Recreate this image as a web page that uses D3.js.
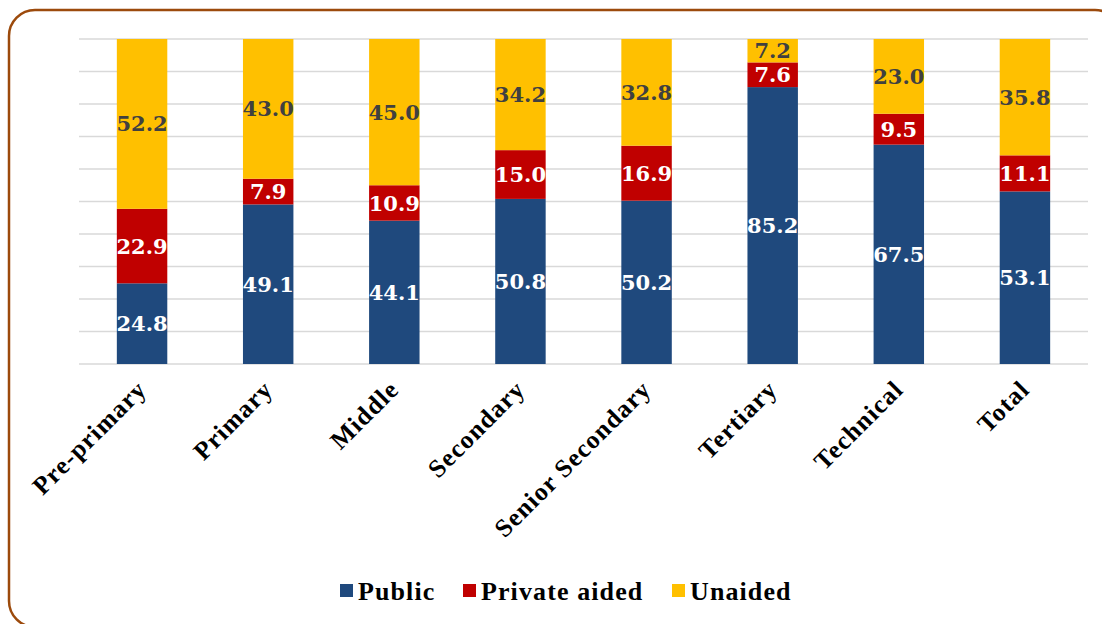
<!DOCTYPE html>
<html>
<head>
<meta charset="utf-8">
<script src="https://cdn.jsdelivr.net/npm/d3@7"></script>
<style>
  body { margin: 0; background: #fff; }
  svg { display: block; }
</style>
</head>
<body>
<svg width="1102" height="624"></svg>
<script>
const categories = ['Pre-primary', 'Primary', 'Middle', 'Secondary', 'Senior Secondary', 'Tertiary', 'Technical', 'Total'];
const publicShare = [24.8, 49.1, 44.1, 50.8, 50.2, 85.2, 67.5, 53.1];
const privateAided = [22.9, 7.9, 10.9, 15.0, 16.9, 7.6, 9.5, 11.1];
const unaided = [52.2, 43.0, 45.0, 34.2, 32.8, 7.2, 23.0, 35.8];
const seriesNames = ['Public', 'Private aided', 'Unaided'];
const seriesKeys = ['public', 'private', 'unaided'];
const colors = ['#1F497D', '#C00000', '#FFC000'];
const labelColors = ['#ffffff', '#ffffff', '#404040'];

const rows = categories.map((c, i) => ({
  cat: c, public: publicShare[i], private: privateAided[i], unaided: unaided[i]
}));

const svg = d3.select('svg');

// frame
svg.append('rect')
    .attr('x', 9).attr('y', 10)
    .attr('width', 1112).attr('height', 617)
    .attr('rx', 26).attr('ry', 26)
    .attr('fill', 'none')
    .attr('stroke', '#9C4A0C')
    .attr('stroke-width', 2.5);

const plotLeft = 79, plotRight = 1088, plotTop = 39, plotBottom = 364;

const x = d3.scaleBand()
    .domain(categories)
    .range([plotLeft, plotRight])
    .paddingInner(0.6)
    .paddingOuter(0.3);
const y = d3.scaleLinear()
    .domain([0, 1])
    .range([plotBottom, plotTop]);

// grid
svg.append('g')
    .selectAll('line')
    .data(d3.range(0, 1.0001, 0.1))
    .join('line')
    .attr('x1', plotLeft).attr('x2', plotRight)
    .attr('y1', d => y(d)).attr('y2', d => y(d))
    .attr('stroke', '#d9d9d9')
    .attr('stroke-width', 1.5);

const stack = d3.stack()
    .keys(seriesKeys)
    .offset(d3.stackOffsetExpand);
const layers = stack(rows);

const layerG = svg.append('g')
    .selectAll('g')
    .data(layers)
    .join('g')
    .attr('fill', (d, i) => colors[i]);

layerG.selectAll('rect')
    .data(d => d)
    .join('rect')
    .attr('x', d => x(d.data.cat))
    .attr('width', x.bandwidth())
    .attr('y', d => y(d[1]))
    .attr('height', d => y(d[0]) - y(d[1]));

// data labels
layers.forEach((layer, li) => {
  svg.append('g')
      .selectAll('text')
      .data(layer)
      .join('text')
      .attr('x', d => x(d.data.cat) + x.bandwidth() / 2)
      .attr('y', d => y((d[0] + d[1]) / 2))
      .attr('dy', '0.36em')
      .attr('text-anchor', 'middle')
      .attr('font-family', 'DejaVu Serif')
      .attr('font-weight', 'bold')
      .attr('font-size', 21)
      .attr('fill', labelColors[li])
      .text(d => d.data[seriesKeys[li]].toFixed(1));
});

// x axis
const xAxis = d3.axisBottom(x).tickSize(0).tickPadding(0);
const axisG = svg.append('g')
    .attr('transform', `translate(0, ${plotBottom})`)
    .call(xAxis);
axisG.select('.domain').remove();
axisG.selectAll('text')
    .attr('font-family', 'Liberation Serif')
    .attr('font-weight', 'bold')
    .attr('font-size', 25.5)
    .attr('letter-spacing', 1.1)
    .attr('fill', '#000')
    .attr('text-anchor', 'end')
    .attr('dy', null)
    .attr('y', 0)
    .attr('transform', 'translate(6, 27) rotate(-45)');

// legend
const legendX = [340, 463, 672];
const legend = svg.append('g')
    .selectAll('g')
    .data(seriesNames)
    .join('g')
    .attr('transform', (d, i) => `translate(${legendX[i]}, 591)`);
legend.append('rect')
    .attr('x', 0).attr('y', -7)
    .attr('width', 13).attr('height', 13)
    .attr('fill', (d, i) => colors[i]);
legend.append('text')
    .attr('x', 18)
    .attr('dy', '0.35em')
    .attr('font-family', 'Liberation Serif')
    .attr('font-weight', 'bold')
    .attr('font-size', 26)
    .attr('letter-spacing', 1.1)
    .text(d => d);
</script>
</body>
</html>
